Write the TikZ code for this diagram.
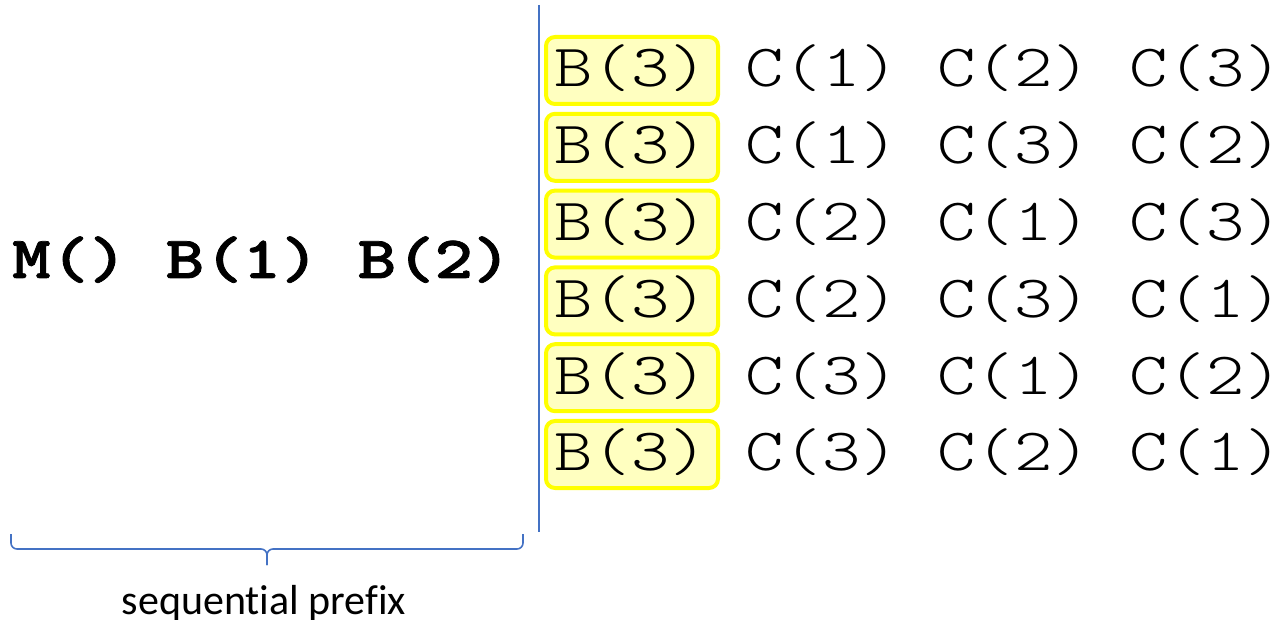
\documentclass[tikz,border=0pt]{standalone}
\usepackage{fontspec}
\setmonofont[BoldFeatures={FakeBold=1.2}]{Latin Modern Mono Light}
\newfontfamily\labelfont[Ligatures=NoCommon]{Carlito}
\definecolor{braceblue}{RGB}{68,114,196}
\definecolor{hlborder}{RGB}{255,255,0}
\definecolor{hlfill}{RGB}{255,255,192}
% wide monospace cells: 60pt type stretched to 38.4pt per character
\newcommand{\codestr}[1]{\scalebox{1.219}[1]{#1}}
\begin{document}
\begin{tikzpicture}[x=1pt,y=-1pt,
  codetext/.style={inner sep=0pt,anchor=base west,font=\fontsize{60}{60}\selectfont\ttfamily},
  hlbox/.style={draw=hlborder,fill=hlfill,line width=4pt,rounded corners=9pt,minimum width=172pt,minimum height=67pt,inner sep=0pt},
  guide/.style={draw=braceblue,line width=2pt}]
\useasboundingbox (0,0) rectangle (1278,620);
% sequential prefix
\node[codetext,font=\fontsize{60}{60}\selectfont\ttfamily\bfseries] (prefix) at (12,278) {\codestr{M() B(1) B(2)}};
% separator
\coordinate (sepTop) at (539,5);
\coordinate (sepBot) at (539,532);
\draw[guide] (sepTop) -- (sepBot);
% rows of permutations
\foreach \i/\a/\b/\c in {0/1/2/3,1/1/3/2,2/2/1/3,3/2/3/1,4/3/1/2,5/3/2/1}{
  \node[hlbox] (box\i) at (632,{70.5+76.8*\i}) {};
  \node[codetext,anchor=base] (b\i) at (631,{87+76.8*\i}) {\codestr{B(3)}};
  \node[codetext] (ca\i) at (745,{87+76.8*\i}) {\makebox[145pt][l]{\codestr{C(\a)}}};
  \node[codetext] (cb\i) at (937,{87+76.8*\i}) {\makebox[145pt][l]{\codestr{C(\b)}}};
  \node[codetext] (cc\i) at (1129,{87+76.8*\i}) {\makebox[145pt][l]{\codestr{C(\c)}}};
}
% brace under the prefix
\coordinate (bl) at (11,534);
\coordinate (br) at (523,534);
\coordinate (midL) at (11,549);
\coordinate (midR) at (523,549);
\coordinate (mid) at (267,549);
\coordinate (tip) at (267,565);
\draw[guide,line width=1.6pt,rounded corners=6pt] (bl) -- (midL) -- (mid) -- (tip);
\draw[guide,line width=1.6pt,rounded corners=6pt] (br) -- (midR) -- (mid) -- (tip);
\node[inner sep=0pt,anchor=base,font=\fontsize{42}{42}\selectfont\labelfont] (caption) at (264,614) {sequential prefix};
\end{tikzpicture}
\end{document}
